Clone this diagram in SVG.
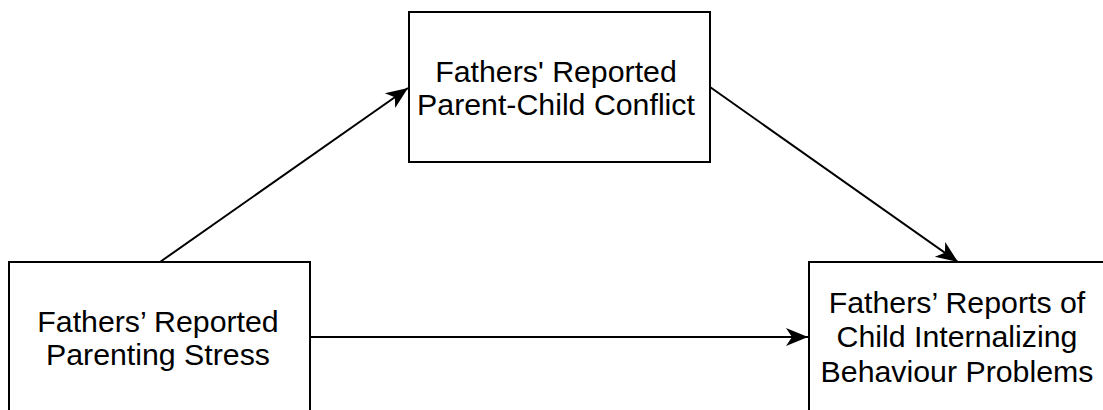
<svg xmlns="http://www.w3.org/2000/svg" width="1103" height="410" viewBox="0 0 1103 410">
  <style>
    .box { fill: #ffffff; stroke: #000000; stroke-width: 2; }
    .lbl { font-family: "Liberation Sans", Arial, sans-serif; font-size: 30.3px; fill: #000000; text-anchor: middle; }
    .edge { fill: none; stroke: #000000; stroke-width: 2; marker-end: url(#arrow); }
  </style>
  <defs>
    <marker id="arrow" markerUnits="userSpaceOnUse" markerWidth="26" markerHeight="22" viewBox="0 -11 26 22" refX="22" refY="0" orient="auto">
      <path d="M0,-9 L22,0 L0,9 L6,0 z" fill="#000000"/>
    </marker>
  </defs>
  <rect width="1103" height="410" fill="#ffffff"/>

  <g id="connectors">
    <line class="edge" x1="160" y1="262" x2="408" y2="88"/>
    <line class="edge" x1="710" y1="87" x2="958" y2="262"/>
    <line class="edge" x1="310" y1="337" x2="808" y2="337"/>
  </g>

  <g id="node-conflict">
    <rect class="box" x="409" y="12" width="301" height="150"/>
    <text class="lbl" x="556" y="82">Fathers' Reported</text>
    <text class="lbl" x="556" y="115">Parent-Child Conflict</text>
  </g>

  <g id="node-stress">
    <rect class="box" x="9" y="262" width="301" height="160"/>
    <text class="lbl" x="158" y="332">Fathers’ Reported</text>
    <text class="lbl" x="158" y="365">Parenting Stress</text>
  </g>

  <g id="node-internalizing">
    <rect class="box" x="809" y="262" width="300" height="160"/>
    <text class="lbl" x="957" y="313">Fathers’ Reports of</text>
    <text class="lbl" x="957" y="347">Child Internalizing</text>
    <text class="lbl" x="957" y="382">Behaviour Problems</text>
  </g>
</svg>
